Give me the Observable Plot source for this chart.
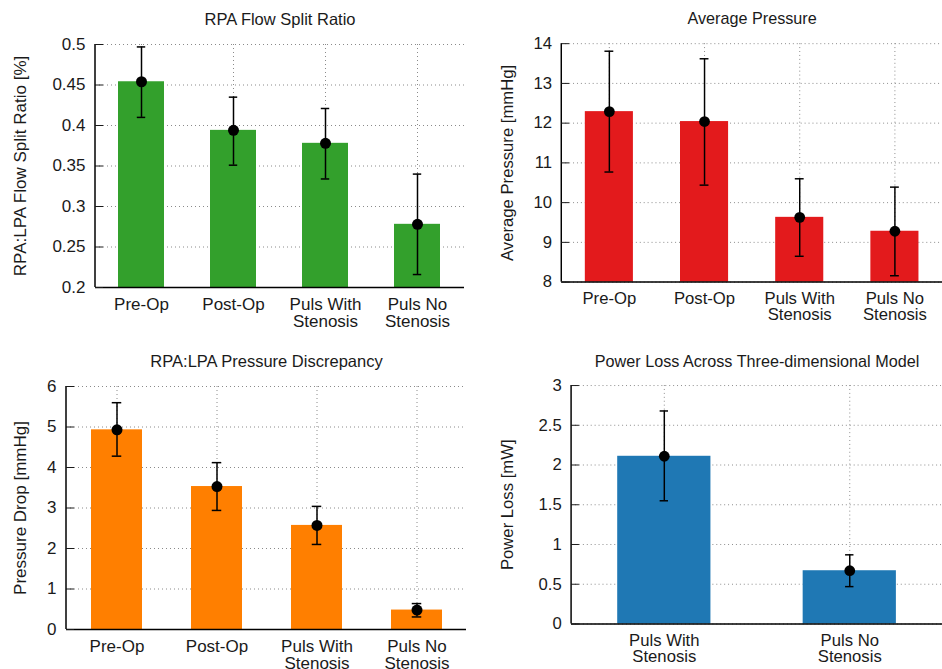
<!DOCTYPE html>
<html><head><meta charset="utf-8">
<script src="https://cdn.jsdelivr.net/npm/d3@7"></script>
<script src="https://cdn.jsdelivr.net/npm/@observablehq/plot@0.6"></script>
<style>
html,body{margin:0;padding:0;background:#fff;}
#wrap{position:relative;width:942px;height:669px;overflow:hidden;}
.panel{position:absolute;}
</style></head><body><div id="wrap"></div>
<script>
// ---- data ----
const stages = ["Pre-Op", "Post-Op", "Puls With\nStenosis", "Puls No\nStenosis"];
const pulsStages = ["Puls With\nStenosis", "Puls No\nStenosis"];

const flowSplit   = [0.454, 0.394, 0.378, 0.278];
const flowSplitLo = [0.410, 0.351, 0.334, 0.216];
const flowSplitHi = [0.497, 0.435, 0.421, 0.340];

const avgPressure   = [12.29, 12.04, 9.63, 9.28];
const avgPressureLo = [10.77, 10.44, 8.65, 8.16];
const avgPressureHi = [13.81, 13.62, 10.60, 10.39];

const pressureDrop   = [4.93, 3.53, 2.57, 0.48];
const pressureDropLo = [4.28, 2.94, 2.10, 0.31];
const pressureDropHi = [5.60, 4.12, 3.04, 0.64];

const powerLoss   = [2.11, 0.67];
const powerLossLo = [1.55, 0.47];
const powerLossHi = [2.68, 0.87];

const flowTicks = [0.2, 0.25, 0.3, 0.35, 0.4, 0.45, 0.5];
const pressureTicks = [8, 9, 10, 11, 12, 13, 14];
const dropTicks = [0, 1, 2, 3, 4, 5, 6];
const powerTicks = [0, 0.5, 1, 1.5, 2, 2.5, 3];

const titles = ["RPA Flow Split Ratio", "Average Pressure", "RPA:LPA Pressure Discrepancy", "Power Loss Across Three-dimensional Model"];
const yLabels = ["RPA:LPA Flow Split Ratio [%]", "Average Pressure [mmHg]", "Pressure Drop [mmHg]", "Power Loss [mW]"];
const colors = ["#33a02c", "#e31a1c", "#ff7f00", "#1f78b4"];

// ---- drawing ----
const FONT = "'Liberation Sans', Arial, Helvetica, sans-serif";
const wrap = document.getElementById("wrap");
const PAD_INNER = 0.495;

function panel(o) {
  const base = o.ticks[0];
  const data = o.cats.map((c, i) => ({c, v: o.vals[i], lo: o.lo[i], hi: o.hi[i], base}));
  const plotW = o.width - o.mL - o.mR;
  const bandW = (plotW / o.cats.length) * (1 - PAD_INNER);
  const capInset = (bandW - 9) / 2;
  const gridStyle = {stroke: "#8a8a8a", strokeOpacity: 1, strokeDasharray: "1,3", strokeWidth: 1};
  const leftLine = (index, scales, values, dims) => {
    return d3.create("svg:line")
      .attr("x1", dims.marginLeft).attr("x2", dims.marginLeft)
      .attr("y1", dims.marginTop).attr("y2", dims.height - dims.marginBottom)
      .attr("stroke", "#000").attr("stroke-width", 1.5).node();
  };
  const chart = Plot.plot({
    width: o.width, height: o.height,
    marginLeft: o.mL, marginRight: o.mR, marginTop: o.mT, marginBottom: o.mB,
    style: {fontFamily: FONT, fontSize: "16.5px", color: "#1a1a1a", background: "transparent", overflow: "visible"},
    x: {domain: o.cats, paddingInner: PAD_INNER, paddingOuter: PAD_INNER / 2, label: null},
    y: {domain: [o.ticks[0], o.ticks[o.ticks.length - 1]], label: null},
    marks: [
      Plot.gridY(o.ticks, gridStyle),
      Plot.gridX(o.cats, gridStyle),
      Plot.barY(data, {x: "c", y1: "base", y2: "v", fill: o.color}),
      Plot.ruleY([base], {stroke: "#000", strokeWidth: 1.5}),
      leftLine,
      Plot.axisY(o.ticks, {tickSize: -8, tickPadding: 18, tickFormat: d => String(d), fontSize: 17,
        label: o.yLabel, labelAnchor: "center", labelOffset: o.labelOffset, labelArrow: false}),
      Plot.axisX({tickSize: 0, tickPadding: 10, label: null, fontSize: 17}),
      Plot.ruleX(data, {x: "c", y1: "lo", y2: "hi", stroke: "#000", strokeWidth: 1.5}),
      Plot.tickY(data, {x: "c", y: "hi", insetLeft: capInset, insetRight: capInset, stroke: "#000", strokeWidth: 1.5}),
      Plot.tickY(data, {x: "c", y: "lo", insetLeft: capInset, insetRight: capInset, stroke: "#000", strokeWidth: 1.5}),
      Plot.dot(data, {x: "c", y: "v", r: 5.5, fill: "#000", stroke: "none"}),
      Plot.text([o.title], {frameAnchor: "top", lineAnchor: "middle", dy: o.titleDy, fontSize: 16.5, fill: "#1a1a1a"})
    ]
  });
  const div = document.createElement("div");
  div.className = "panel";
  div.style.left = o.left + "px";
  div.style.top = o.top + "px";
  div.appendChild(chart);
  wrap.appendChild(div);
}

panel({left: 0, top: 0, width: 471, height: 335, mL: 95, mR: 7, mT: 44, mB: 48, labelOffset: 82, titleDy: -25,
  cats: stages, vals: flowSplit, lo: flowSplitLo, hi: flowSplitHi, ticks: flowTicks,
  color: colors[0], title: titles[0], yLabel: yLabels[0]});
panel({left: 471, top: 0, width: 480, height: 335, mL: 92, mR: 0, mT: 44, mB: 48, labelOffset: 62, titleDy: -25,
  cats: stages, vals: avgPressure, lo: avgPressureLo, hi: avgPressureHi, ticks: pressureTicks,
  color: colors[1], title: titles[1], yLabel: yLabels[1]});
panel({left: 0, top: 335, width: 471, height: 334, mL: 66, mR: 5, mT: 51, mB: 40, labelOffset: 53, titleDy: -24.5,
  cats: stages, vals: pressureDrop, lo: pressureDropLo, hi: pressureDropHi, ticks: dropTicks,
  color: colors[2], title: titles[2], yLabel: yLabels[2]});
panel({left: 471, top: 335, width: 480, height: 334, mL: 102, mR: 0, mT: 51, mB: 40, labelOffset: 72, titleDy: -24.5,
  cats: pulsStages, vals: powerLoss, lo: powerLossLo, hi: powerLossHi, ticks: powerTicks,
  color: colors[3], title: titles[3], yLabel: yLabels[3]});
</script>
</body></html>
